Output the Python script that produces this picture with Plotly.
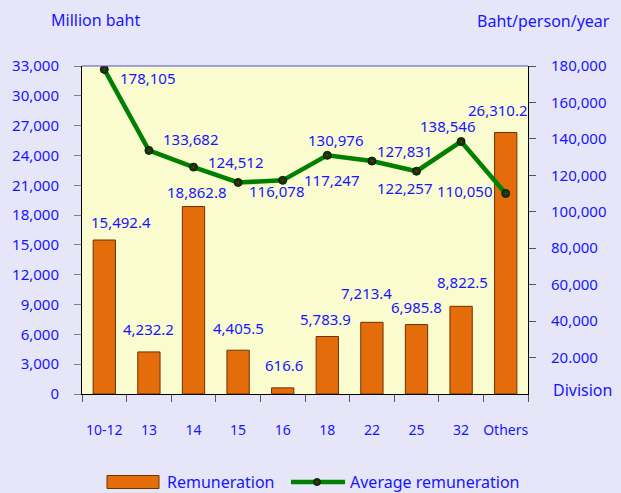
import plotly.graph_objects as go

# ---------------- data ----------------
categories = ["10-12", "13", "14", "15", "16", "18", "22", "25", "32", "Others"]
remuneration = [15492.4, 4232.2, 18862.8, 4405.5, 616.6, 5783.9, 7213.4, 6985.8, 8822.5, 26310.2]
avg_remuneration = [178105, 133682, 124512, 116078, 117247, 130976, 127831, 122257, 138546, 110050]
left_ticks = [0, 3000, 6000, 9000, 12000, 15000, 18000, 21000, 24000, 27000, 30000, 33000]
right_ticks = [20000, 40000, 60000, 80000, 100000, 120000, 140000, 160000, 180000]
right_tick_labels = ["20.000", "40,000", "60,000", "80,000", "100,000", "120,000",
                     "140,000", "160,000", "180,000"]

# label placement offsets (pixels)
bar_label_dx = [17, 0, 3, 0, 1, -2, -5, 0, 1, -8]
bar_label_dy = [18, 23, 15, 22, 23, 18, 29, 18, 24, 22]
line_label_dx = [44, 42, 42, 39, 49, 9, 33, -12, -13, -41]
line_label_dy = [-9, 11, 5, -9, 0, 15, 10, -17, 16, 2]

# ---------------- style ----------------
W, H = 621, 493
ML, MR, MT, MB = 82, 93, 66, 99
PW, PH = W - ML - MR, H - MT - MB
BLUE = "#1616FF"
ORANGE = "#E46C0A"
BROWN = "#6B3300"
GREEN = "#008000"
FONT = "Noto Sans"
LEG_Y = 482


def px_x(px):
    return (px - ML) / PW


def px_y(py):
    return (H - MB - py) / PH


fig = go.Figure()
fig.add_trace(go.Bar(
    x=categories, y=remuneration, name="Remuneration",
    marker=dict(color=ORANGE, line=dict(color=BROWN, width=1)),
    width=0.5, showlegend=False,
))
fig.add_trace(go.Scatter(
    x=categories, y=avg_remuneration, yaxis="y2", name="Average remuneration",
    mode="lines+markers",
    line=dict(color=GREEN, width=4.5),
    marker=dict(color="#0B3A0B", size=8, line=dict(color="#062006", width=1)),
    showlegend=False,
))
fig.add_trace(go.Scatter(
    x=categories, y=avg_remuneration, yaxis="y2", mode="markers",
    marker=dict(color="#E00000", size=2), showlegend=False, hoverinfo="skip",
))

annotations = []
for i, (v, dx, dy) in enumerate(zip(remuneration, bar_label_dx, bar_label_dy)):
    annotations.append(dict(
        x=i, y=v, xref="x", yref="y", text=f"{v:,.1f}", showarrow=False,
        xshift=dx, yshift=dy, font=dict(family=FONT, size=15, color=BLUE),
    ))
for i, (v, dx, dy) in enumerate(zip(avg_remuneration, line_label_dx, line_label_dy)):
    annotations.append(dict(
        x=i, y=v, xref="x", yref="y2", text=f"{v:,}", showarrow=False,
        xshift=dx, yshift=dy, font=dict(family=FONT, size=15, color=BLUE),
    ))

annotations += [
    dict(x=px_x(95), y=px_y(20), xref="paper", yref="paper", text="Million baht",
         showarrow=False, xanchor="center", yanchor="middle",
         font=dict(family=FONT, size=16, color=BLUE)),
    dict(x=px_x(543), y=px_y(21), xref="paper", yref="paper", text="Baht/person/year",
         showarrow=False, xanchor="center", yanchor="middle",
         font=dict(family=FONT, size=16, color=BLUE)),
    dict(x=px_x(551), y=px_y(390), xref="paper", yref="paper", text="Division",
         showarrow=False, xanchor="left", yanchor="middle",
         font=dict(family=FONT, size=16, color=BLUE)),
    dict(x=px_x(165), y=px_y(LEG_Y), xref="paper", yref="paper", text="Remuneration",
         showarrow=False, xanchor="left", yanchor="middle",
         font=dict(family=FONT, size=16, color=BLUE)),
    dict(x=px_x(348), y=px_y(LEG_Y), xref="paper", yref="paper", text="Average remuneration",
         showarrow=False, xanchor="left", yanchor="middle",
         font=dict(family=FONT, size=16, color=BLUE)),
]

shapes = [
    # top border
    dict(type="line", xref="paper", yref="paper", x0=0, x1=1, y0=1, y1=1,
         line=dict(color="#5050D0", width=1)),
    # legend swatches
    dict(type="rect", xref="paper", yref="paper", x0=px_x(107), x1=px_x(159),
         y0=px_y(LEG_Y + 6.5), y1=px_y(LEG_Y - 6.5), fillcolor=ORANGE,
         line=dict(color=BROWN, width=1)),
    dict(type="line", xref="paper", yref="paper", x0=px_x(291), x1=px_x(345),
         y0=px_y(LEG_Y), y1=px_y(LEG_Y), line=dict(color=GREEN, width=4.5)),
    dict(type="circle", xref="paper", yref="paper", x0=px_x(313.5), x1=px_x(320.5),
         y0=px_y(LEG_Y + 3.5), y1=px_y(LEG_Y - 3.5), fillcolor="#0B3A0B",
         line=dict(color="#062006", width=1)),
    dict(type="circle", xref="paper", yref="paper", x0=px_x(316), x1=px_x(318),
         y0=px_y(LEG_Y + 1), y1=px_y(LEG_Y - 1), fillcolor="#E00000", line=dict(width=0)),
]

fig.update_layout(
    width=W, height=H,
    margin=dict(l=ML, r=MR, t=MT, b=MB, pad=0),
    paper_bgcolor="#E6E6F8",
    plot_bgcolor="#FBFBD0",
    font=dict(family=FONT, color=BLUE),
    bargap=0.5,
    showlegend=False,
    xaxis=dict(
        type="category", showline=True, linecolor="black", linewidth=1,
        ticks="outside", ticklen=7, tickcolor="#555555", tickson="boundaries",
        showgrid=False, zeroline=False, tickangle=0,
        tickfont=dict(family=FONT, size=14, color=BLUE),
        ticklabelstandoff=23,
        range=[-0.5, 9.5],
    ),
    yaxis=dict(
        range=[0, 33000], tickvals=left_ticks, tickformat=",",
        showline=True, linecolor="black", linewidth=1,
        ticks="outside", ticklen=7, tickcolor="#808080",
        showgrid=False, zeroline=False,
        tickfont=dict(family=FONT, size=15, color=BLUE),
        ticklabelstandoff=12,
    ),
    yaxis2=dict(
        range=[0, 180000], tickvals=right_ticks, ticktext=right_tick_labels,
        overlaying="y", side="right",
        showline=True, linecolor="black", linewidth=1,
        ticks="outside", ticklen=7, tickcolor="#555555",
        showgrid=False, zeroline=False,
        tickfont=dict(family=FONT, size=15, color=BLUE),
        ticklabelstandoff=12,
    ),
    annotations=annotations,
    shapes=shapes,
)

fig.write_html(
    "out.html",
    config={"displayModeBar": False},
    post_script="document.body.style.margin='0px';document.body.style.overflow='hidden';",
)
